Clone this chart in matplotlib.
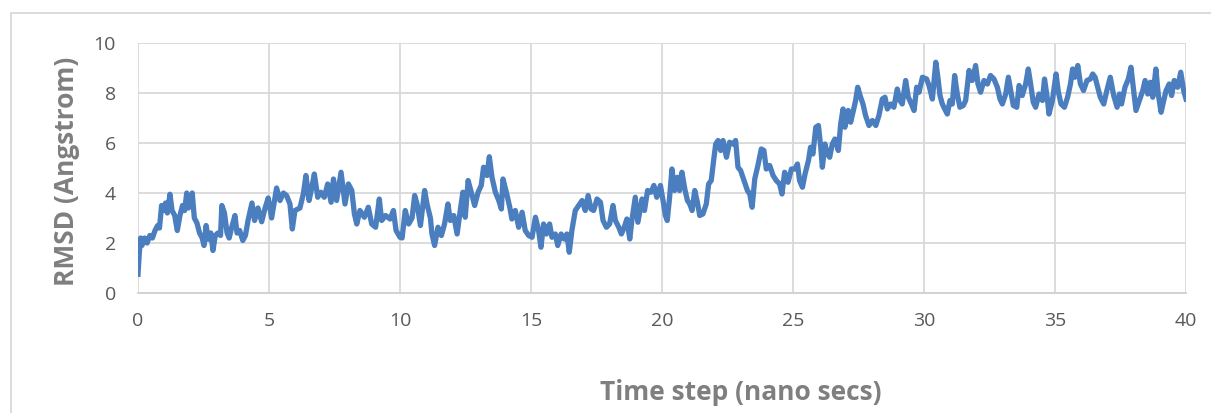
import matplotlib.pyplot as plt
from matplotlib.patches import Rectangle

# RMSD trace, time in ns and RMSD in Angstrom
time_ns = [
    0.00, 0.05, 0.10, 0.15, 0.25, 0.35, 0.45, 0.55, 0.65, 0.75, 0.82, 0.90, 0.97, 1.05, 1.12, 1.22,
    1.30, 1.40, 1.50, 1.60, 1.70, 1.78, 1.86, 1.93, 2.00, 2.07, 2.15, 2.25, 2.35, 2.45, 2.52, 2.60,
    2.68, 2.78, 2.86, 2.95, 3.05, 3.15, 3.20, 3.30, 3.40, 3.48, 3.57, 3.70, 3.78, 3.88, 4.00, 4.10,
    4.20, 4.35, 4.45, 4.58, 4.72, 4.85, 4.97,
    5.10, 5.29, 5.42, 5.55, 5.67, 5.80, 5.89, 5.99, 6.18, 6.31, 6.41, 6.53, 6.63, 6.73, 6.86, 6.98,
    7.11, 7.24, 7.37, 7.46, 7.58, 7.75, 7.90, 8.03, 8.16, 8.26, 8.35, 8.47, 8.64, 8.79, 8.92, 9.07,
    9.21, 9.30, 9.45, 9.62, 9.75, 9.85, 10.00,
    10.08, 10.20, 10.33, 10.46, 10.56, 10.65, 10.78, 10.94, 11.03, 11.16, 11.22, 11.32, 11.45, 11.58,
    11.70, 11.83, 11.92, 12.05, 12.18, 12.30, 12.40, 12.49, 12.60, 12.72, 12.85, 12.98, 13.10, 13.19,
    13.32, 13.41, 13.51, 13.64, 13.77, 13.87, 13.93, 14.06, 14.19, 14.27, 14.40, 14.53, 14.66, 14.78,
    14.91,
    15.04, 15.17, 15.29, 15.38, 15.48, 15.59, 15.71, 15.80, 15.93, 16.02, 16.15, 16.27, 16.37, 16.46,
    16.56, 16.69, 16.82, 16.95, 17.07, 17.18, 17.29, 17.39, 17.52, 17.65, 17.75, 17.88, 18.00, 18.13,
    18.22, 18.35, 18.45, 18.56, 18.66, 18.77, 18.85, 18.98, 19.08, 19.24, 19.33, 19.45, 19.58, 19.69,
    19.80, 19.94,
    20.04, 20.13, 20.20, 20.29, 20.38, 20.48, 20.59, 20.67, 20.76, 20.87, 20.97, 21.06, 21.15, 21.25,
    21.35, 21.44, 21.56, 21.69, 21.78, 21.88, 21.97, 22.05, 22.14, 22.24, 22.33, 22.46, 22.58, 22.71,
    22.81, 22.90, 23.00, 23.13, 23.26, 23.35, 23.44, 23.54, 23.66, 23.79, 23.89, 23.98, 24.11, 24.24,
    24.36, 24.49, 24.58, 24.68, 24.81, 24.94,
    25.08, 25.17, 25.25, 25.36, 25.46, 25.59, 25.67, 25.76, 25.87, 25.97, 26.06, 26.12, 26.22, 26.31,
    26.40, 26.50, 26.60, 26.73, 26.82, 26.91, 26.98, 27.11, 27.20, 27.29, 27.39, 27.47, 27.56, 27.67,
    27.77, 27.90, 28.03, 28.16, 28.28, 28.41, 28.51, 28.60, 28.73, 28.85, 28.98, 29.08, 29.17, 29.30,
    29.40, 29.49, 29.62, 29.72, 29.81, 29.94,
    30.10, 30.19, 30.32, 30.45, 30.53, 30.61, 30.70, 30.79, 30.89, 30.99, 31.08, 31.17, 31.27, 31.37,
    31.50, 31.59, 31.72, 31.84, 31.97, 32.06, 32.16, 32.29, 32.42, 32.54, 32.67, 32.80, 32.90, 32.99,
    33.12, 33.22, 33.31, 33.41, 33.54, 33.63, 33.75, 33.88, 33.98, 34.07, 34.17, 34.26, 34.39, 34.52,
    34.60, 34.71, 34.77, 34.90,
    35.04, 35.13, 35.23, 35.36, 35.48, 35.59, 35.67, 35.76, 35.87, 35.97, 36.09, 36.22, 36.35, 36.44,
    36.53, 36.63, 36.73, 36.86, 36.98, 37.11, 37.24, 37.37, 37.46, 37.54, 37.67, 37.80, 37.90, 38.00,
    38.09, 38.22, 38.35, 38.44, 38.54, 38.64, 38.73, 38.85, 38.94, 39.05, 39.15, 39.24, 39.36, 39.45,
    39.55, 39.68, 39.80, 39.91, 40.00,
]
rmsd = [
    0.75, 1.60, 2.20, 1.90, 2.20, 2.00, 2.30, 2.20, 2.50, 2.70, 2.60, 3.50, 3.30, 3.60, 3.20, 3.95,
    3.30, 3.10, 2.50, 3.10, 3.50, 3.30, 4.00, 3.40, 3.60, 4.00, 3.00, 2.80, 2.40, 2.20, 1.90, 2.70,
    2.15, 2.40, 1.70, 2.30, 2.40, 2.30, 3.50, 3.20, 2.40, 2.20, 2.60, 3.10, 2.40, 2.50, 2.10, 2.30,
    2.90, 3.60, 2.90, 3.40, 2.85, 3.40, 3.80,
    3.00, 4.20, 3.70, 4.00, 3.90, 3.56, 2.56, 3.30, 3.40, 3.96, 4.70, 3.70, 4.20, 4.76, 3.83, 4.03,
    3.83, 4.36, 3.63, 4.56, 3.70, 4.83, 3.56, 4.36, 4.10, 3.16, 2.76, 3.30, 3.03, 3.43, 2.76, 2.63,
    3.76, 2.90, 3.10, 2.96, 3.30, 2.50, 2.23,
    2.20, 3.30, 2.76, 3.00, 3.90, 3.56, 2.70, 4.10, 3.56, 3.00, 2.36, 1.90, 2.63, 2.30,
    2.76, 3.56, 2.90, 3.10, 2.36, 3.30, 4.03, 3.03, 4.50, 4.03, 3.50, 4.03, 4.30, 5.03,
    4.70, 5.45, 4.63, 4.03, 3.70, 3.36, 4.56, 4.03, 3.43, 2.96, 3.30, 2.63, 3.23, 2.50,
    2.30,
    2.23, 3.03, 2.50, 1.83, 2.76, 2.36, 2.76, 2.23, 2.36, 1.90, 2.36, 2.16, 2.36, 1.63,
    2.50, 3.30, 3.50, 3.70, 3.30, 3.90, 3.36, 3.30, 3.76, 3.63, 2.90, 2.63, 2.76, 3.50,
    2.90, 2.63, 2.36, 2.63, 2.96, 2.16, 2.90, 3.83, 2.83, 3.76, 3.30, 4.10, 4.03, 4.30,
    3.83, 4.30,
    3.70, 3.10, 2.90, 3.83, 4.96, 4.10, 4.63, 4.10, 4.83, 4.16, 3.70, 3.56, 3.30, 4.10,
    3.63, 3.10, 3.16, 3.56, 4.36, 4.50, 5.30, 5.96, 6.10, 5.70, 6.10, 5.43, 6.03, 5.96,
    6.10, 5.03, 4.90, 4.50, 4.10, 3.96, 3.43, 4.56, 5.10, 5.76, 5.70, 4.96, 5.10, 4.70,
    4.50, 4.36, 3.96, 4.83, 4.43, 4.96,
    4.96, 5.16, 4.50, 4.23, 4.76, 5.30, 5.83, 5.56, 6.63, 6.70, 5.83, 5.03, 5.96, 5.56,
    5.43, 5.96, 6.16, 5.70, 6.76, 7.36, 6.63, 7.30, 6.83, 7.23, 7.70, 8.23, 7.90, 7.56,
    7.10, 6.70, 6.90, 6.70, 7.10, 7.76, 7.83, 7.36, 7.56, 7.43, 8.16, 7.70, 7.56, 8.50,
    7.83, 7.63, 7.30, 8.23, 8.03, 8.63,
    8.56, 8.30, 7.76, 9.23, 8.63, 7.90, 7.56, 7.36, 7.16, 7.70, 7.56, 8.70, 7.96, 7.43,
    7.50, 7.70, 8.90, 8.50, 9.10, 8.36, 8.03, 8.50, 8.36, 8.70, 8.56, 8.23, 7.76, 7.56,
    7.96, 8.63, 8.10, 7.50, 7.43, 8.30, 7.90, 8.36, 8.96, 8.36, 7.63, 7.43, 7.96, 7.70,
    8.56, 7.76, 7.16, 7.70,
    8.76, 8.03, 7.56, 7.43, 7.83, 8.36, 8.96, 8.63, 9.10, 8.36, 8.10, 8.50, 8.56, 8.76,
    8.63, 8.23, 7.83, 7.56, 8.10, 8.63, 7.90, 7.43, 7.96, 7.56, 8.23, 8.56, 9.03, 8.10,
    7.30, 7.70, 8.10, 8.50, 7.96, 8.43, 7.83, 8.96, 7.96, 7.23, 7.70, 8.10, 8.36, 7.90,
    8.50, 8.23, 8.83, 8.10, 7.76,
]

x_ticks = [0, 5, 10, 15, 20, 25, 30, 35, 40]
y_ticks = [0, 2, 4, 6, 8, 10]

W, H = 1211, 413
fig = plt.figure(figsize=(W / 100, H / 100), dpi=100)

# light chart-area frame (runs off the right and bottom edges)
fig.patches.append(Rectangle((11 / W, -0.1), 1.2, 1 - 13 / H + 0.1, transform=fig.transFigure,
                             fill=False, edgecolor='#d9d9d9', linewidth=1.3))

ax_l, ax_r, ax_t, ax_b = 138, 1186, 43, 293
ax = fig.add_axes([ax_l / W, 1 - ax_b / H, (ax_r - ax_l) / W, (ax_b - ax_t) / H])
ax.plot(time_ns, rmsd, color='#4a7ebf', linewidth=3.8, solid_joinstyle='round', zorder=3)

ax.set_xlim(0, 40)
ax.set_ylim(0, 10)
ax.set_xticks(x_ticks)
ax.set_yticks(y_ticks)
ax.grid(True, color='#d9d9d9', linewidth=1.3)
ax.set_axisbelow(True)
for side in ['top', 'right', 'left']:
    ax.spines[side].set_visible(False)
ax.spines['bottom'].set_color('#d0d0d0')
ax.spines['bottom'].set_linewidth(1.3)
ax.tick_params(length=0, labelsize=14, labelcolor='#595959')
ax.tick_params(axis='x', pad=14)
ax.tick_params(axis='y', pad=16)
for lab in ax.get_xticklabels() + ax.get_yticklabels():
    lab.set_family('Open Sans')

ax.set_xlabel('Time step (nano secs)', fontsize=19, fontweight='bold', color='#7f7f7f',
              family='Open Sans')
ax.set_ylabel('RMSD (Angstrom)', fontsize=19, fontweight='bold', color='#7f7f7f',
              family='Open Sans')
# label centres in pixel positions converted to axes fractions
ax.xaxis.set_label_coords((741 - ax_l) / (ax_r - ax_l), -(392 - ax_b) / (ax_b - ax_t))
ax.yaxis.set_label_coords(-(ax_l - 66) / (ax_r - ax_l), (ax_b - 171) / (ax_b - ax_t))
ax.xaxis.label.set_va('center')
ax.yaxis.label.set_va('center')

plt.savefig('out.png', dpi=100)
